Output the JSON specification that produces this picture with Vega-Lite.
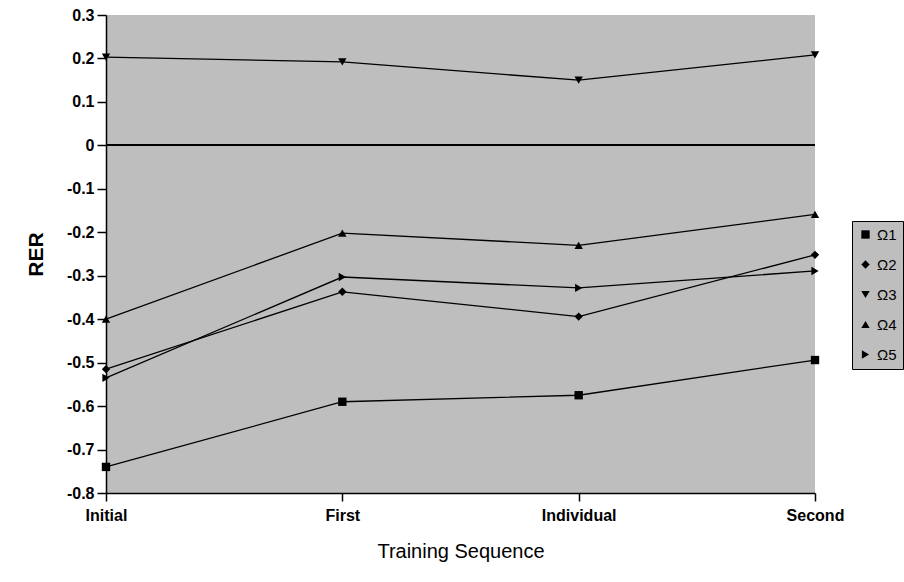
{
  "$schema": "https://vega.github.io/schema/vega-lite/v6.json",
  "autosize": {"type": "none"},
  "width": 709,
  "height": 478,
  "padding": {"left": 106, "top": 15, "right": 89, "bottom": 89},
  "background": "white",
  "config": {
    "view": {"fill": "#bebebe", "stroke": null},
    "font": "Liberation Sans",
    "axis": {"labelFont": "Liberation Sans", "titleFont": "Liberation Sans", "domainColor": "black", "tickColor": "black", "labelColor": "black", "titleColor": "black", "grid": false}
  },
  "data": {
    "values": [
      {"stage": "Initial", "series": "Ω1", "value": -0.74},
      {"stage": "First", "series": "Ω1", "value": -0.59},
      {"stage": "Individual", "series": "Ω1", "value": -0.575},
      {"stage": "Second", "series": "Ω1", "value": -0.494},
      {"stage": "Initial", "series": "Ω2", "value": -0.515},
      {"stage": "First", "series": "Ω2", "value": -0.337},
      {"stage": "Individual", "series": "Ω2", "value": -0.394},
      {"stage": "Second", "series": "Ω2", "value": -0.252},
      {"stage": "Initial", "series": "Ω3", "value": 0.203},
      {"stage": "First", "series": "Ω3", "value": 0.192},
      {"stage": "Individual", "series": "Ω3", "value": 0.15},
      {"stage": "Second", "series": "Ω3", "value": 0.208},
      {"stage": "Initial", "series": "Ω4", "value": -0.4},
      {"stage": "First", "series": "Ω4", "value": -0.202},
      {"stage": "Individual", "series": "Ω4", "value": -0.23},
      {"stage": "Second", "series": "Ω4", "value": -0.159},
      {"stage": "Initial", "series": "Ω5", "value": -0.535},
      {"stage": "First", "series": "Ω5", "value": -0.303},
      {"stage": "Individual", "series": "Ω5", "value": -0.328},
      {"stage": "Second", "series": "Ω5", "value": -0.289}
    ]
  },
  "layer": [
    {
      "mark": {"type": "line", "color": "black", "strokeWidth": 1.3},
      "encoding": {
        "x": {
          "field": "stage", "type": "ordinal",
          "sort": ["Initial", "First", "Individual", "Second"],
          "scale": {"type": "point", "padding": 0},
          "axis": {"title": "Training Sequence", "labelAngle": 0, "labelFontSize": 16, "labelFontWeight": "bold", "titleFontSize": 20, "titleFontWeight": "normal", "tickSize": 8, "labelPadding": 6, "titlePadding": 18, "domainWidth": 1.5, "tickWidth": 1.5}
        },
        "y": {
          "field": "value", "type": "quantitative",
          "scale": {"domain": [-0.8, 0.3], "nice": false, "zero": false},
          "axis": {"title": "RER", "values": [-0.8, -0.7, -0.6, -0.5, -0.4, -0.3, -0.2, -0.1, 0, 0.1, 0.2, 0.3], "labelExpr": "datum.value == 0 ? '0' : '' + datum.value", "labelFontSize": 16, "labelFontWeight": "bold", "titleFontSize": 21, "titleFontWeight": "bold", "tickSize": 9, "labelPadding": 3, "titlePadding": 20, "domainWidth": 1.5, "tickWidth": 1.5}
        },
        "detail": {"field": "series", "type": "nominal"}
      }
    },
    {
      "mark": {"type": "rule", "color": "black", "strokeWidth": 1.5},
      "encoding": {"y": {"datum": 0, "type": "quantitative"}}
    },
    {
      "mark": {"type": "point", "filled": true, "color": "black", "opacity": 1, "size": 70},
      "encoding": {
        "x": {"field": "stage", "type": "ordinal", "sort": ["Initial", "First", "Individual", "Second"]},
        "y": {"field": "value", "type": "quantitative"},
        "shape": {
          "field": "series", "type": "nominal",
          "scale": {"domain": ["Ω1", "Ω2", "Ω3", "Ω4", "Ω5"], "range": ["square", "diamond", "triangle-down", "triangle-up", "triangle-right"]},
          "legend": {
            "title": null, "orient": "none", "legendX": 746, "legendY": 206,
            "fillColor": "#bebebe", "strokeColor": "black",
            "padding": 6, "rowPadding": 14, "labelFontSize": 15, "labelColor": "black",
            "symbolFillColor": "black", "symbolStrokeColor": "black", "symbolSize": 70, "labelOffset": 4
          }
        }
      }
    }
  ]
}
